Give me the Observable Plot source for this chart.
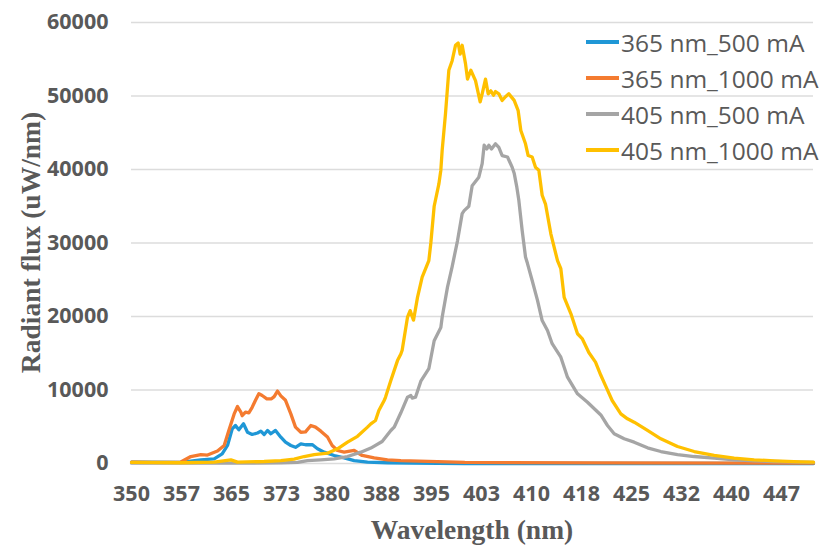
<!DOCTYPE html>
<html>
<head>
<meta charset="utf-8">
<script src="https://cdn.jsdelivr.net/npm/d3@7"></script>
<script src="https://cdn.jsdelivr.net/npm/@observablehq/plot@0.6"></script>
<style>
  html, body { margin: 0; padding: 0; background: #ffffff; }
  #wrap { position: relative; width: 825px; height: 547px; overflow: hidden; }
  #legend { position: absolute; left: 586px; top: 0; font-family: "Open Sans", sans-serif; font-size: 24.5px; color: #595959; }
  .row { position: absolute; left: 0; height: 30px; display: flex; align-items: center; white-space: nowrap; }
  .sw { width: 33px; height: 3.5px; margin-right: 2px; }
</style>
</head>
<body>
<div id="wrap"></div>
<script>
// ---- series names and colours ----
const seriesNames = ["365 nm_500 mA", "365 nm_1000 mA", "405 nm_500 mA", "405 nm_1000 mA"];
const seriesColors = ["#1f97d6", "#f47b30", "#a5a5a5", "#ffc000"];

// ---- axis ticks ----
const yTicks = [0, 10000, 20000, 30000, 40000, 50000, 60000];
const xTickValues = [350, 357.5, 365, 372.5, 380, 387.5, 395, 402.5, 410, 417.5, 425, 432.5, 440, 447.5];
const xTickLabels = ["350", "357", "365", "373", "380", "388", "395", "403", "410", "418", "425", "432", "440", "447"];

// ---- 365 nm, 500 mA ----
const wl365_500 = [350, 357.4, 360.4, 362.4, 363.6, 364.4, 365.1, 365.6, 366.1, 366.8, 367.4, 368.1, 368.9, 369.4, 369.9, 370.4, 370.9, 371.6, 372.4, 373.1, 373.9, 374.6, 375.4, 376.1, 377.1, 377.9, 378.9, 380.4, 381.9, 383.4, 385.4, 388.4, 392, 400, 452.3];
const flux365_500 = [200, 150, 500, 640, 1300, 2450, 4700, 5170, 4580, 5400, 4250, 3950, 4150, 4400, 3950, 4500, 4050, 4500, 3580, 2900, 2450, 2200, 2680, 2550, 2580, 2000, 1540, 1090, 770, 400, 180, 100, 50, 0, 0];

// ---- 365 nm, 1000 mA ----
const wl365_1000 = [350, 353, 357.4, 358.9, 360.4, 361.4, 362.9, 363.9, 364.6, 365.4, 365.9, 366.4, 366.6, 367.1, 367.6, 368.1, 368.6, 369.1, 369.6, 370.3, 371, 371.4, 371.9, 372.4, 373.1, 373.9, 374.6, 375.4, 376.1, 376.9, 377.6, 378.4, 379.4, 380.1, 380.9, 381.9, 383.4, 384.6, 386.4, 388.4, 390.4, 400, 420, 452.3];
const flux365_1000 = [200, 150, 200, 950, 1200, 1150, 1700, 2450, 4500, 6750, 7750, 7000, 6500, 7000, 6900, 7650, 8600, 9500, 9250, 8800, 8800, 9100, 9850, 9200, 8600, 6750, 4950, 4250, 4300, 5170, 4950, 4400, 3600, 2450, 1770, 1540, 1770, 1090, 770, 500, 400, 150, 80, 50];

// ---- 405 nm, 500 mA ----
const wl405_500 = [350, 367.9, 372.4, 374.9, 376.4, 378.4, 380.4, 382.4, 384.4, 385.9, 387.6, 388.9, 389.4, 390.4, 391.4, 391.9, 392.1, 392.6, 393.4, 394.6, 395.4, 396.4, 396.6, 397.4, 398.1, 398.9, 399.6, 399.9, 400.6, 401.1, 402.1, 402.6, 402.9, 403.3, 403.6, 404.0, 404.6, 405.1, 405.6, 406.4, 407.1, 407.4, 407.8, 408.1, 408.6, 409.1, 409.4, 410.1, 410.9, 411.6, 412.4, 413.1, 414.4, 415.4, 416.9, 418.4, 420.4, 421.4, 422.4, 423.9, 425.4, 427.4, 429.4, 431.9, 434.4, 437.4, 440.4, 443.4, 446.4, 450.4, 452.3];
const flux405_500 = [50, 50, 80, 140, 400, 500, 640, 950, 1540, 2100, 3000, 4490, 4940, 6900, 9020, 9250, 8900, 9020, 11200, 12900, 16700, 18500, 19900, 24000, 26800, 30300, 34000, 34400, 35000, 37800, 38950, 40800, 43300, 42800, 43300, 42800, 43500, 43000, 41900, 41700, 40300, 39500, 37600, 35800, 31700, 28100, 27200, 24900, 22200, 19450, 18100, 16300, 14460, 11740, 9480, 8340, 6600, 5170, 4040, 3360, 2900, 2130, 1630, 1220, 950, 720, 500, 370, 270, 180, 150];

// ---- 405 nm, 1000 mA ----
const wl405_1000 = [350, 357.4, 362.4, 364.9, 365.9, 369.9, 372.4, 374.4, 375.9, 377.4, 379.4, 380.9, 382.4, 383.9, 385.4, 385.9, 386.6, 387.1, 387.9, 388.1, 388.9, 389.9, 390.4, 390.6, 391.4, 391.8, 392.3, 392.9, 393.6, 394.6, 394.9, 395.4, 396.1, 396.4, 396.6, 397.1, 397.6, 398.1, 398.6, 399.0, 399.3, 399.6, 400.1, 400.4, 400.9, 401.6, 402.3, 402.6, 403.1, 403.5, 403.9, 404.3, 404.6, 405.1, 405.6, 406.1, 406.6, 407.4, 408.0, 408.4, 409.1, 409.5, 410.1, 410.6, 411.1, 411.6, 412.1, 412.9, 413.9, 414.4, 414.9, 415.9, 416.9, 417.6, 418.6, 419.6, 420.4, 421.1, 422.1, 423.4, 424.4, 425.4, 427.4, 429.4, 431.9, 434.4, 437.4, 440.4, 443.4, 446.4, 450.4, 452.3];
const flux405_1000 = [150, 100, 180, 500, 180, 270, 400, 590, 950, 1220, 1400, 2000, 2900, 3700, 4950, 5400, 5850, 7200, 8570, 9000, 11300, 14000, 14900, 15400, 19900, 20800, 19500, 22600, 25350, 27600, 30000, 35000, 38000, 39900, 42600, 47600, 53500, 54800, 56900, 57200, 55700, 56900, 54400, 52300, 53500, 52100, 49200, 50300, 52300, 50300, 50700, 50100, 50600, 50300, 49400, 49900, 50300, 49400, 48000, 45300, 43500, 41900, 41700, 40300, 39900, 36500, 35300, 31250, 27600, 26500, 22600, 20400, 17650, 17000, 15100, 13800, 12000, 10600, 8570, 6760, 6080, 5620, 4500, 3360, 2310, 1630, 1090, 720, 500, 370, 230, 180];

// ---- build table ----
const seriesWl = [wl365_500, wl365_1000, wl405_500, wl405_1000];
const seriesFlux = [flux365_500, flux365_1000, flux405_500, flux405_1000];
const data = seriesNames.flatMap((name, s) =>
  seriesWl[s].map((w, i) => ({series: name, wl: w, flux: seriesFlux[s][i]}))
);
const xLabelMap = new Map(xTickValues.map((v, i) => [v, xTickLabels[i]]));

const W = 825, H = 547;
const mL = 131, mR = 12, mT = 22, mB = 84;

const chart = Plot.plot({
  width: W,
  height: H,
  marginLeft: mL,
  marginRight: mR,
  marginTop: mT,
  marginBottom: mB,
  style: {fontFamily: "'Open Sans', sans-serif", fontSize: "21.5px", fontWeight: 700, color: "#595959", background: "#ffffff"},
  x: {domain: [350, 452.3], ticks: xTickValues, tickFormat: d => xLabelMap.get(d), tickSize: 0, tickPadding: 22, label: null},
  y: {domain: [0, 60000], ticks: yTicks, tickFormat: d => String(d), tickSize: 0, tickPadding: 23, label: null},
  color: {domain: seriesNames, range: seriesColors},
  marks: [
    Plot.ruleY(yTicks, {stroke: "#dcdcdc", strokeWidth: 1.3}),
    Plot.line(data, {x: "wl", y: "flux", z: "series", stroke: "series", strokeWidth: 3.3, strokeLinejoin: "round", strokeLinecap: "round"})
  ]
});

const wrap = document.getElementById("wrap");
wrap.appendChild(chart);

// axis titles
const svg = d3.select(chart);
svg.append("text")
  .attr("transform", `translate(40, ${(mT + H - mB) / 2}) rotate(-90)`)
  .attr("text-anchor", "middle")
  .attr("font-family", "'Liberation Serif', 'Times New Roman', serif")
  .attr("font-weight", 700)
  .attr("font-size", 27.5)
  .attr("fill", "#595959")
  .text("Radiant flux (uW/nm)");
svg.append("text")
  .attr("x", (mL + W - mR) / 2)
  .attr("y", 539)
  .attr("text-anchor", "middle")
  .attr("font-family", "'Liberation Serif', 'Times New Roman', serif")
  .attr("font-weight", 700)
  .attr("font-size", 27.5)
  .attr("fill", "#595959")
  .text("Wavelength (nm)");

// legend
const legend = document.createElement("div");
legend.id = "legend";
const rowCenters = [42, 78, 114, 150];
seriesNames.forEach((name, i) => {
  const row = document.createElement("div");
  row.className = "row";
  row.style.top = (rowCenters[i] - 15) + "px";
  const sw = document.createElement("span");
  sw.className = "sw";
  sw.style.background = seriesColors[i];
  const t = document.createElement("span");
  t.textContent = name;
  row.appendChild(sw);
  row.appendChild(t);
  legend.appendChild(row);
});
wrap.appendChild(legend);
</script>
</body>
</html>
